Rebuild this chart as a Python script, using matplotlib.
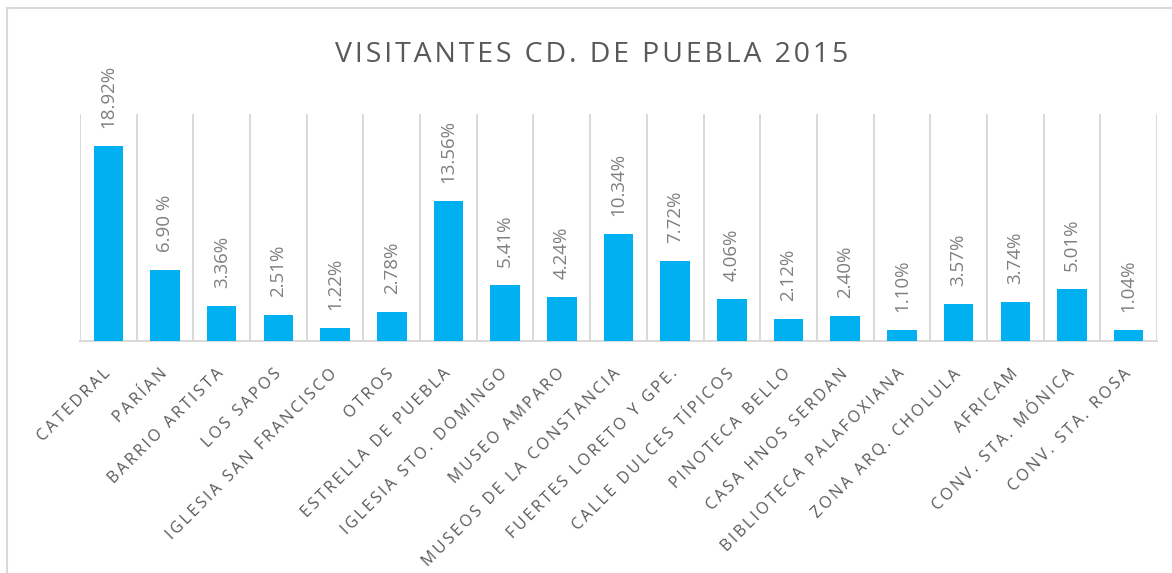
import matplotlib
matplotlib.use("Agg")
import matplotlib.pyplot as plt
import numpy as np
from matplotlib.patches import Rectangle

# datos
categorias = ["CATEDRAL", "PARÍAN", "BARRIO ARTISTA", "LOS SAPOS", "IGLESIA SAN FRANCISCO",
              "OTROS", "ESTRELLA DE PUEBLA", "IGLESIA STO. DOMINGO", "MUSEO AMPARO",
              "MUSEOS DE LA CONSTANCIA", "FUERTES LORETO Y GPE.", "CALLE DULCES TÍPICOS",
              "PINOTECA BELLO", "CASA HNOS SERDAN", "BIBLIOTECA PALAFOXIANA",
              "ZONA ARQ. CHOLULA", "AFRICAM", "CONV. STA. MÓNICA", "CONV. STA. ROSA"]
porcentajes = [18.92, 6.90, 3.36, 2.51, 1.22, 2.78, 13.56, 5.41, 4.24, 10.34,
               7.72, 4.06, 2.12, 2.40, 1.10, 3.57, 3.74, 5.01, 1.04]
etiquetas = ["18.92%", "6.90 %", "3.36%", "2.51%", "1.22%", "2.78%", "13.56%", "5.41%",
             "4.24%", "10.34%", "7.72%", "4.06%", "2.12%", "2.40%", "1.10%", "3.57%",
             "3.74%", "5.01%", "1.04%"]

AZUL = "#00B0F0"
GRIS = "#D9D9D9"
FAM = ["Open Sans", "DejaVu Sans"]


def espaciado(txt, sep="\u200a"):
    # Excel usa espaciado entre letras; lo imitamos con espacios
    return sep.join(txt)


fig = plt.figure(figsize=(11.72, 5.73), dpi=100)
ax = fig.add_axes([80 / 1172, 1 - 341 / 573, (1157 - 80) / 1172, (341 - 114) / 573])

x = np.arange(len(categorias))
ax.bar(x, porcentajes, width=0.52, color=AZUL, zorder=3)

for xi, v, lab in zip(x, porcentajes, etiquetas):
    ax.annotate(lab, (xi, v), xytext=(0, 13), textcoords="offset points",
                rotation=90, ha="center", va="bottom", fontsize=13.5,
                color="#7F7F7F", family=FAM)

# separadores verticales entre categorias
for b in np.arange(len(categorias) + 1) - 0.5:
    ax.axvline(b, color=GRIS, lw=1.4, zorder=1)

ax.set_xlim(-0.5, len(categorias) - 0.5)
ax.set_ylim(0, 22)
ax.set_yticks([])
for s in ["top", "right", "left"]:
    ax.spines[s].set_visible(False)
ax.spines["bottom"].set_color(GRIS)
ax.spines["bottom"].set_linewidth(1.4)

ax.set_xticks(x)
ax.set_xticklabels([espaciado(c, "\u2009") for c in categorias], rotation=45, ha="right",
                   va="center", rotation_mode="anchor", fontsize=11.5,
                   color="#595959", family=FAM)
ax.tick_params(axis="x", length=0, pad=22)

fig.text(592 / 1172, 1 - 62 / 573, espaciado("VISITANTES CD. DE PUEBLA 2015"),
         ha="center", va="baseline", fontsize=20.5, color="#595959", family=FAM)

# borde del area del grafico
fig.patches.append(Rectangle((7 / 1172, -0.1), 1.5, 1.1 - 8 / 573,
                             transform=fig.transFigure, fill=False,
                             edgecolor=GRIS, lw=1.5))

fig.savefig("out.png", dpi=100)
